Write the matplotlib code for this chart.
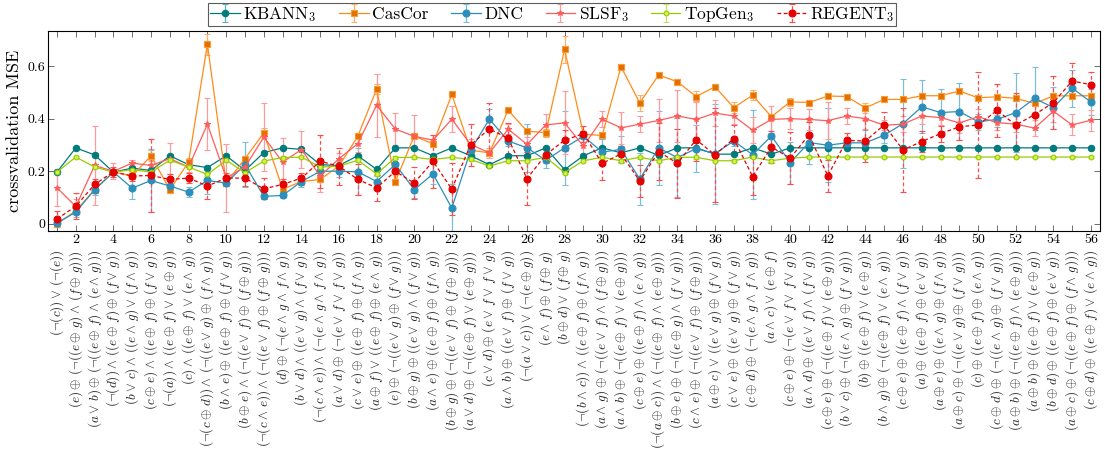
import matplotlib
matplotlib.use("Agg")
import matplotlib.pyplot as plt
from matplotlib.transforms import blended_transform_factory

plt.rcParams['font.family'] = 'serif'
plt.rcParams['font.serif'] = ['cmr10', 'DejaVu Serif']
plt.rcParams['mathtext.fontset'] = 'cm'
plt.rcParams['axes.formatter.use_mathtext'] = True

positions = list(range(1, 57))

formulas = [
    r'$(\neg(c)) \vee (\neg(e))$',
    r'$(e) \oplus (\neg((e \oplus g) \wedge (f \oplus g)))$',
    r'$(a \vee b) \oplus (\neg((e \oplus f) \wedge (e \wedge g)))$',
    r'$(\neg(d)) \wedge ((e \oplus f) \oplus (f \vee g))$',
    r'$(b \vee c) \wedge ((e \wedge g) \vee (f \wedge g))$',
    r'$(c \oplus e) \wedge ((e \oplus f) \oplus (f \vee g))$',
    r'$(\neg(a)) \wedge ((e \oplus f) \vee (e \oplus g))$',
    r'$(c) \wedge ((e \oplus f) \vee (e \wedge g))$',
    r'$(\neg(c \oplus d)) \wedge (\neg((e \vee g) \oplus (f \wedge g)))$',
    r'$(b \wedge e) \oplus ((e \oplus f) \oplus (f \vee g))$',
    r'$(b \oplus e) \wedge (\neg((e \vee f) \oplus (f \oplus g)))$',
    r'$(\neg(c \wedge e)) \wedge (\neg((e \vee f) \oplus (f \oplus g)))$',
    r'$(d) \oplus (\neg(e \wedge g \wedge f \wedge g))$',
    r'$(b \vee d) \wedge ((e \vee g) \wedge (f \vee g))$',
    r'$(\neg(c \wedge e)) \wedge (\neg(e \wedge g \wedge f \wedge g))$',
    r'$(a \vee d) \oplus (\neg(e \vee f \vee f \vee g))$',
    r'$(c \vee e) \oplus ((e \oplus f) \oplus (f \wedge g))$',
    r'$(a \oplus f) \vee ((e \oplus f) \oplus (e \wedge g))$',
    r'$(e) \oplus (\neg((e \vee g) \oplus (f \vee g)))$',
    r'$(b \oplus g) \oplus ((e \vee g) \wedge (f \vee g))$',
    r'$(a \wedge e) \oplus ((e \oplus f) \oplus (f \wedge g))$',
    r'$(b \oplus g) \oplus (\neg((e \vee f) \oplus (f \oplus g)))$',
    r'$(a \vee d) \oplus (\neg((e \oplus f) \vee (e \oplus g)))$',
    r'$(c \vee d) \oplus (e \vee f \vee f \vee g)$',
    r'$(a \wedge b) \oplus ((e \vee f) \oplus (f \vee g))$',
    r'$(\neg(a \vee c)) \vee (\neg(e \oplus g))$',
    r'$(e \wedge f) \oplus (f \oplus g)$',
    r'$(b \oplus d) \vee (f \oplus g)$',
    r'$(\neg(b \wedge c)) \wedge ((e \oplus f) \oplus (f \wedge g))$',
    r'$(a \wedge g) \oplus (\neg((e \vee f) \wedge (f \oplus g)))$',
    r'$(a \wedge b) \oplus (\neg((e \oplus f) \vee (e \oplus g)))$',
    r'$(c \oplus e) \oplus ((e \oplus f) \wedge (e \wedge g))$',
    r'$(\neg(a \oplus c)) \wedge (\neg((e \oplus f) \wedge (e \oplus g)))$',
    r'$(b \oplus e) \oplus (\neg((e \oplus g) \wedge (f \vee g)))$',
    r'$(c \wedge e) \oplus (\neg((e \vee f) \oplus (f \oplus g)))$',
    r'$(a \oplus c) \vee ((e \vee g) \oplus (f \vee g))$',
    r'$(c \vee e) \oplus ((e \vee g) \oplus (f \vee g))$',
    r'$(c \oplus d) \oplus (\neg(e \wedge g \wedge f \wedge g))$',
    r'$(a \wedge c) \vee (e \oplus f)$',
    r'$(c \oplus e) \oplus (\neg(e \vee f \vee f \vee g))$',
    r'$(a \wedge d) \oplus ((e \vee f) \wedge (f \vee g))$',
    r'$(c \oplus e) \oplus (\neg((e \oplus f) \vee (e \oplus g)))$',
    r'$(b \vee c) \oplus (\neg((e \wedge g) \oplus (f \vee g)))$',
    r'$(b) \oplus ((e \oplus f) \vee (e \oplus g))$',
    r'$(b \wedge g) \oplus (\neg((e \oplus f) \vee (e \wedge g)))$',
    r'$(c \oplus e) \oplus ((e \oplus f) \wedge (f \vee g))$',
    r'$(a) \oplus ((e \oplus f) \oplus (e \vee g))$',
    r'$(a \oplus e) \oplus ((e \wedge g) \oplus (f \wedge g))$',
    r'$(a \oplus c) \oplus (\neg((e \vee g) \oplus (f \vee g)))$',
    r'$(c) \oplus ((e \oplus f) \oplus (e \wedge g))$',
    r'$(c \oplus d) \oplus (\neg((e \wedge g) \oplus (f \vee g)))$',
    r'$(a \oplus b) \oplus (\neg((e \oplus f) \wedge (e \oplus g)))$',
    r'$(a \oplus b) \oplus ((e \oplus f) \vee (e \oplus g))$',
    r'$(b \oplus d) \oplus ((e \oplus f) \oplus (e \vee g))$',
    r'$(a \oplus c) \oplus (\neg((e \oplus f) \oplus (f \wedge g)))$',
    r'$(c \oplus d) \oplus ((e \oplus f) \vee (e \wedge g))$',
]

kbann = [0.197, 0.289, 0.262, 0.197, 0.212, 0.203, 0.259, 0.225, 0.214, 0.259,
         0.203, 0.271, 0.289, 0.283, 0.225, 0.222, 0.259, 0.207, 0.289, 0.289,
         0.259, 0.289, 0.259, 0.225, 0.259, 0.259, 0.289, 0.206, 0.259, 0.289,
         0.270, 0.289, 0.260, 0.289, 0.289, 0.265, 0.265, 0.289, 0.265, 0.289,
         0.289, 0.289, 0.289, 0.289, 0.289, 0.289, 0.289, 0.289, 0.289, 0.289,
         0.289, 0.289, 0.289, 0.289, 0.289, 0.289]
kbann_err = [0.005, 0.005, 0.006, 0.005, 0.005, 0.005, 0.005, 0.005, 0.005, 0.005,
             0.005, 0.005, 0.005, 0.005, 0.005, 0.005, 0.005, 0.005, 0.005, 0.005,
             0.005, 0.005, 0.005, 0.005, 0.005, 0.005, 0.005, 0.005, 0.005, 0.005,
             0.005, 0.005, 0.005, 0.005, 0.005, 0.005, 0.005, 0.005, 0.005, 0.005,
             0.005, 0.005, 0.005, 0.005, 0.005, 0.005, 0.005, 0.005, 0.005, 0.005,
             0.005, 0.005, 0.005, 0.005, 0.005, 0.005]

cascor = [0.000, 0.050, 0.130, 0.197, 0.182, 0.259, 0.130, 0.235, 0.683, 0.155,
          0.248, 0.346, 0.132, 0.161, 0.169, 0.220, 0.333, 0.512, 0.161, 0.334,
          0.304, 0.492, 0.280, 0.270, 0.432, 0.352, 0.347, 0.663, 0.341, 0.336,
          0.597, 0.460, 0.566, 0.540, 0.484, 0.521, 0.442, 0.489, 0.407, 0.464,
          0.461, 0.486, 0.484, 0.441, 0.473, 0.473, 0.487, 0.487, 0.505, 0.479,
          0.483, 0.477, 0.458, 0.486, 0.487, 0.487]
cascor_err = [0.005, 0.010, 0.010, 0.010, 0.010, 0.020, 0.010, 0.015, 0.040, 0.010,
              0.010, 0.020, 0.010, 0.010, 0.010, 0.010, 0.010, 0.020, 0.010, 0.010,
              0.010, 0.010, 0.010, 0.010, 0.010, 0.010, 0.015, 0.050, 0.010, 0.015,
              0.010, 0.030, 0.010, 0.010, 0.020, 0.010, 0.020, 0.020, 0.010, 0.015,
              0.010, 0.010, 0.010, 0.020, 0.010, 0.010, 0.010, 0.010, 0.010, 0.010,
              0.010, 0.010, 0.010, 0.010, 0.010, 0.010]

dnc = [0.003, 0.045, 0.130, 0.197, 0.136, 0.165, 0.144, 0.121, 0.165, 0.155,
       0.225, 0.105, 0.108, 0.161, 0.200, 0.200, 0.198, 0.161, 0.226, 0.130,
       0.190, 0.060, 0.280, 0.398, 0.315, 0.289, 0.242, 0.289, 0.333, 0.273,
       0.283, 0.170, 0.289, 0.252, 0.286, 0.267, 0.315, 0.263, 0.334, 0.233,
       0.309, 0.299, 0.308, 0.308, 0.337, 0.381, 0.445, 0.423, 0.427, 0.388,
       0.397, 0.423, 0.477, 0.442, 0.516, 0.463]
dnc_err = [0.010, 0.020, 0.020, 0.010, 0.040, 0.120, 0.020, 0.020, 0.050, 0.010,
           0.085, 0.010, 0.010, 0.020, 0.020, 0.020, 0.090, 0.020, 0.020, 0.030,
           0.040, 0.090, 0.020, 0.040, 0.020, 0.090, 0.030, 0.140, 0.020, 0.050,
           0.050, 0.100, 0.140, 0.150, 0.090, 0.190, 0.020, 0.170, 0.070, 0.080,
           0.080, 0.140, 0.020, 0.050, 0.030, 0.170, 0.100, 0.090, 0.110, 0.030,
           0.030, 0.150, 0.120, 0.080, 0.070, 0.050]

slsf = [0.137, 0.066, 0.222, 0.200, 0.231, 0.222, 0.248, 0.216, 0.379, 0.175,
        0.216, 0.330, 0.235, 0.282, 0.182, 0.248, 0.305, 0.451, 0.360, 0.333,
        0.318, 0.398, 0.302, 0.270, 0.360, 0.302, 0.376, 0.384, 0.295, 0.398,
        0.365, 0.379, 0.393, 0.410, 0.397, 0.421, 0.410, 0.356, 0.397, 0.400,
        0.397, 0.392, 0.410, 0.400, 0.375, 0.379, 0.410, 0.404, 0.384, 0.407,
        0.385, 0.379, 0.364, 0.428, 0.376, 0.394]
slsf_err = [0.070, 0.030, 0.150, 0.030, 0.010, 0.020, 0.060, 0.020, 0.100, 0.130,
            0.020, 0.130, 0.090, 0.070, 0.060, 0.020, 0.030, 0.120, 0.060, 0.080,
            0.020, 0.050, 0.020, 0.020, 0.020, 0.030, 0.040, 0.120, 0.030, 0.030,
            0.060, 0.030, 0.080, 0.100, 0.070, 0.050, 0.030, 0.050, 0.050, 0.040,
            0.040, 0.070, 0.030, 0.040, 0.020, 0.030, 0.030, 0.030, 0.040, 0.030,
            0.030, 0.030, 0.030, 0.040, 0.040, 0.040]

topgen = [0.197, 0.254, 0.216, 0.197, 0.206, 0.197, 0.242, 0.216, 0.188, 0.242,
          0.194, 0.239, 0.252, 0.254, 0.216, 0.219, 0.242, 0.190, 0.252, 0.253,
          0.245, 0.253, 0.245, 0.220, 0.240, 0.240, 0.253, 0.195, 0.240, 0.253,
          0.240, 0.253, 0.240, 0.253, 0.253, 0.240, 0.240, 0.254, 0.240, 0.250,
          0.254, 0.254, 0.254, 0.254, 0.254, 0.254, 0.254, 0.254, 0.254, 0.254,
          0.254, 0.254, 0.254, 0.254, 0.254, 0.254]
topgen_err = [0.005, 0.005, 0.005, 0.005, 0.005, 0.005, 0.005, 0.005, 0.005, 0.005,
              0.005, 0.005, 0.005, 0.005, 0.005, 0.005, 0.005, 0.005, 0.005, 0.005,
              0.005, 0.005, 0.005, 0.005, 0.005, 0.005, 0.005, 0.005, 0.005, 0.005,
              0.005, 0.005, 0.005, 0.005, 0.005, 0.005, 0.005, 0.005, 0.005, 0.005,
              0.005, 0.005, 0.005, 0.005, 0.005, 0.005, 0.005, 0.005, 0.005, 0.005,
              0.005, 0.005, 0.005, 0.005, 0.005, 0.005]

regent = [0.019, 0.067, 0.150, 0.198, 0.182, 0.184, 0.169, 0.174, 0.144, 0.174,
          0.174, 0.133, 0.150, 0.174, 0.238, 0.219, 0.169, 0.137, 0.200, 0.155,
          0.238, 0.132, 0.301, 0.361, 0.325, 0.172, 0.263, 0.318, 0.343, 0.230,
          0.266, 0.163, 0.275, 0.230, 0.320, 0.262, 0.324, 0.180, 0.292, 0.250,
          0.338, 0.183, 0.317, 0.315, 0.376, 0.281, 0.313, 0.343, 0.369, 0.376,
          0.431, 0.376, 0.415, 0.461, 0.543, 0.529]
regent_err = [0.030, 0.050, 0.020, 0.020, 0.020, 0.140, 0.020, 0.020, 0.050, 0.020,
              0.030, 0.040, 0.020, 0.020, 0.100, 0.070, 0.060, 0.050, 0.030, 0.060,
              0.100, 0.100, 0.080, 0.100, 0.060, 0.100, 0.030, 0.040, 0.030, 0.065,
              0.030, 0.060, 0.110, 0.130, 0.080, 0.180, 0.050, 0.070, 0.060, 0.100,
              0.050, 0.060, 0.030, 0.080, 0.050, 0.160, 0.040, 0.030, 0.050, 0.200,
              0.100, 0.120, 0.050, 0.100, 0.070, 0.050]

series = [
    # label, values, errors, line color, err color, marker, ms, mfc, mec, linestyle
    (r'KBANN$_3$', kbann, kbann_err, '#007b7b', '#5fb0b0', 'o', 4.6, '#007b7b', '#007b7b', '-'),
    ('CasCor', cascor, cascor_err, '#ff8c1a', '#ffb066', 's', 4.6, '#e07000', '#ff9a33', '-'),
    ('DNC', dnc, dnc_err, '#2b8fbb', '#7cbdd8', 'o', 5.0, '#2b8fbb', '#2b8fbb', '-'),
    (r'SLSF$_3$', slsf, slsf_err, '#ff5c5c', '#ff9a9a', '*', 4.0, '#ff5c5c', '#ff5c5c', '-'),
    (r'TopGen$_3$', topgen, topgen_err, '#99cc00', '#c4e066', 'o', 3.4, '#d6f04d', '#99cc00', '-'),
    (r'REGENT$_3$', regent, regent_err, '#e60000', '#ff4d4d', 'o', 5.0, '#e60000', '#e60000', '--'),
]

fig = plt.figure(figsize=(11.05, 4.49), dpi=100)
ax = fig.add_axes([48 / 1105, 1 - 231 / 449, (1100 - 48) / 1105, 200 / 449])

for label, vals, errs, col, ecol, mk, ms, mfc, mec, ls in series:
    cont = ax.errorbar(positions, vals, yerr=errs, color=col, ecolor=ecol,
                       marker=mk, ms=ms, mfc=mfc, mec=mec, mew=0.8,
                       lw=0.9, ls=ls, elinewidth=0.9, capsize=2.2, capthick=0.9,
                       label=label)
    if ls == '--':
        for bl in cont[2]:
            bl.set_linestyle((0, (3, 2)))
        cont[0].set_dashes((3, 2))

ax.set_xlim(0.52, 56.48)
ax.set_ylim(-0.027, 0.733)
ax.set_xticks(positions)
ax.set_xticklabels([str(p) if p % 2 == 0 else '' for p in positions], fontsize=10)
ax.set_yticks([0, 0.2, 0.4, 0.6])
ax.set_yticklabels(['0', '0.2', '0.4', '0.6'], fontsize=10)
ax.tick_params(axis='both', direction='in', top=True, right=True, length=4,
               width=0.6, color='#555555', pad=2)
ax.set_ylabel('crossvalidation MSE', fontsize=13, labelpad=4)
for sp in ax.spines.values():
    sp.set_linewidth(0.8)


def spaced(s):
    for op in (r'\oplus', r'\wedge', r'\vee'):
        s = s.replace(' ' + op + ' ', op + r'\,')
    return s


trans = blended_transform_factory(ax.transData, ax.transAxes)
for p, f in zip(positions, formulas):
    ax.text(p, -0.095, spaced(f), transform=trans, rotation=90, ha='center', va='top',
            fontsize=9.5, color='#222222')

leg = fig.legend(loc='upper center', bbox_to_anchor=(552 / 1105, 1 - 3 / 449),
                 ncol=6, fontsize=12.5, frameon=True, fancybox=False,
                 edgecolor='#333333', handlelength=1.7, handletextpad=0.2,
                 columnspacing=1.3, borderpad=0.12, borderaxespad=0)
leg.get_frame().set_linewidth(0.8)

fig.savefig('out.png', dpi=100)
